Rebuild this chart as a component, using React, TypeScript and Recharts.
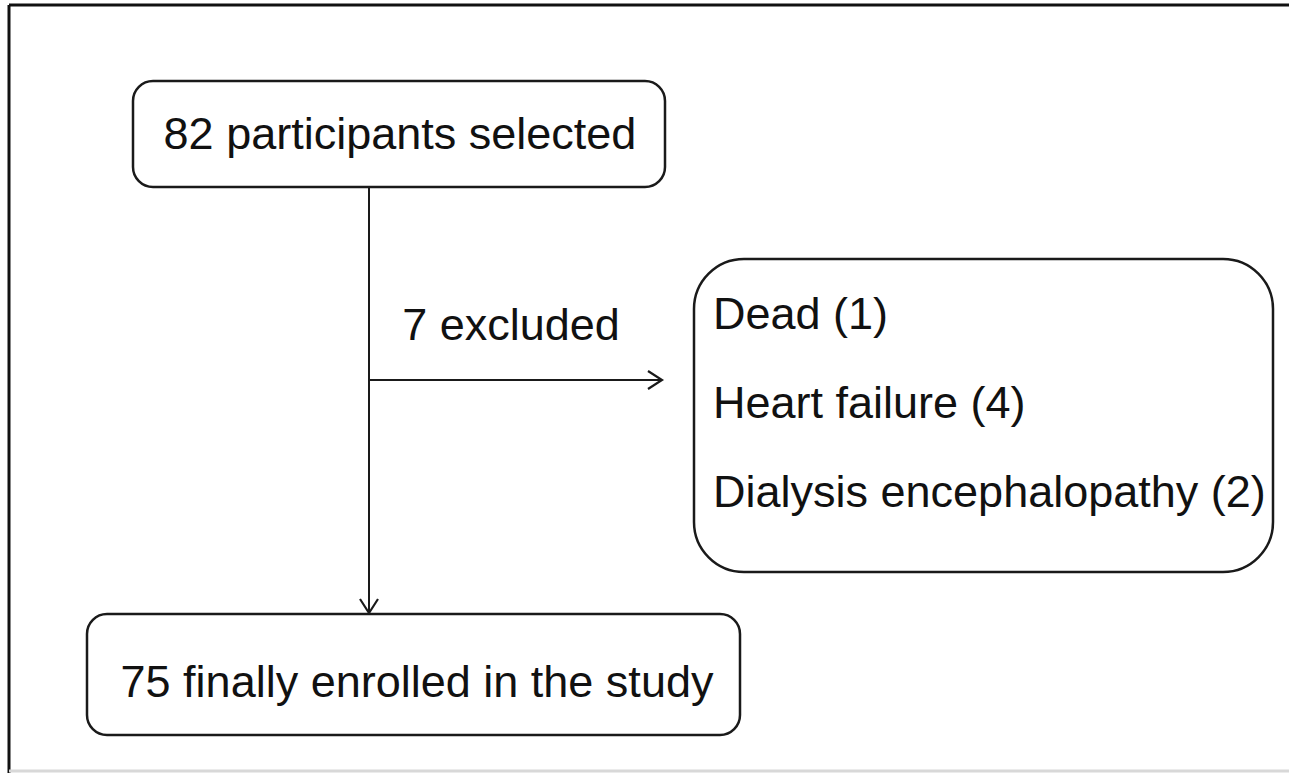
import { ComposedChart, XAxis, YAxis, Scatter, ReferenceArea, ReferenceLine } from 'recharts';

const W = 1289;
const H = 773;

// flowchart boxes, in the chart's own coordinate domain
const boxes = [
    { id: 'selected', x1: 133, x2: 665, y1: 81, y2: 187, r: 20 },
    { id: 'excluded', x1: 694, x2: 1273, y1: 259, y2: 572, r: 50 },
    { id: 'enrolled', x1: 87, x2: 740, y1: 614, y2: 735, r: 20 },
];

const labels = [
    { x: 400, y: 149, text: '82 participants selected', anchor: 'middle' },
    { x: 511, y: 340, text: '7 excluded', anchor: 'middle' },
    { x: 713, y: 329, text: 'Dead (1)', anchor: 'start' },
    { x: 713, y: 418, text: 'Heart failure (4)', anchor: 'start' },
    { x: 713, y: 507, text: 'Dialysis encephalopathy (2)', anchor: 'start' },
    { x: 417, y: 697, text: '75 finally enrolled in the study', anchor: 'middle' },
];

const arrows = [
    { from: { x: 369, y: 187 }, to: { x: 369, y: 613 } },
    { from: { x: 369, y: 380 }, to: { x: 662, y: 380 } },
];

const frame = [
    { from: { x: 9, y: 5 }, to: { x: 1289, y: 5 }, color: '#111' },
    { from: { x: 9, y: 5 }, to: { x: 9, y: 773 }, color: '#111' },
    { from: { x: 9, y: 771 }, to: { x: 1289, y: 771 }, color: '#d8d8d8' },
];

const FONT = '"Liberation Sans", Arial, sans-serif';

function ArrowLine(props: any) {
    const { x1, y1, x2, y2 } = props;
    const len = Math.hypot(x2 - x1, y2 - y1) || 1;
    const ux = (x2 - x1) / len;
    const uy = (y2 - y1) / len;
    const head = 14;
    const half = 9;
    const bx = x2 - ux * head;
    const by = y2 - uy * head;
    const p1 = `${bx - uy * half},${by + ux * half}`;
    const p2 = `${bx + uy * half},${by - ux * half}`;
    return (
        <g>
            <line x1={x1} y1={y1} x2={x2} y2={y2} stroke="#1a1a1a" strokeWidth={2} />
            <polyline points={`${p1} ${x2},${y2} ${p2}`} fill="none" stroke="#1a1a1a" strokeWidth={2.2} />
        </g>
    );
}

export default function App() {
    return (
        <div style={{ width: W, height: H, background: '#fff' }}>
            <style>{'body{margin:0;}'}</style>
            <ComposedChart width={W} height={H} data={labels} margin={{ top: 0, right: 0, bottom: 0, left: 0 }}>
                <XAxis type="number" dataKey="x" domain={[0, W]} hide allowDataOverflow />
                <YAxis type="number" dataKey="y" domain={[0, H]} reversed hide allowDataOverflow />

                {frame.map((f, i) => (
                    <ReferenceLine
                        key={'f' + i}
                        segment={[f.from, f.to]}
                        stroke={f.color}
                        strokeWidth={3}
                        ifOverflow="visible"
                    />
                ))}

                {boxes.map(b => (
                    <ReferenceArea
                        key={b.id}
                        x1={b.x1}
                        x2={b.x2}
                        y1={b.y1}
                        y2={b.y2}
                        ifOverflow="visible"
                        shape={(p: any) => (
                            <rect
                                x={p.x}
                                y={p.y}
                                width={p.width}
                                height={p.height}
                                rx={b.r}
                                ry={b.r}
                                fill="#fff"
                                stroke="#1a1a1a"
                                strokeWidth={2.5}
                            />
                        )}
                    />
                ))}

                {arrows.map((a, i) => (
                    <ReferenceLine
                        key={'a' + i}
                        segment={[a.from, a.to]}
                        ifOverflow="visible"
                        shape={(p: any) => <ArrowLine {...p} />}
                    />
                ))}

                <Scatter
                    dataKey="y"
                    isAnimationActive={false}
                    shape={(p: any) => (
                        <text
                            x={p.cx}
                            y={p.cy}
                            textAnchor={p.payload.anchor}
                            fontFamily={FONT}
                            fontSize={45}
                            fill="#111"
                        >
                            {p.payload.text}
                        </text>
                    )}
                />
            </ComposedChart>
        </div>
    );
}
